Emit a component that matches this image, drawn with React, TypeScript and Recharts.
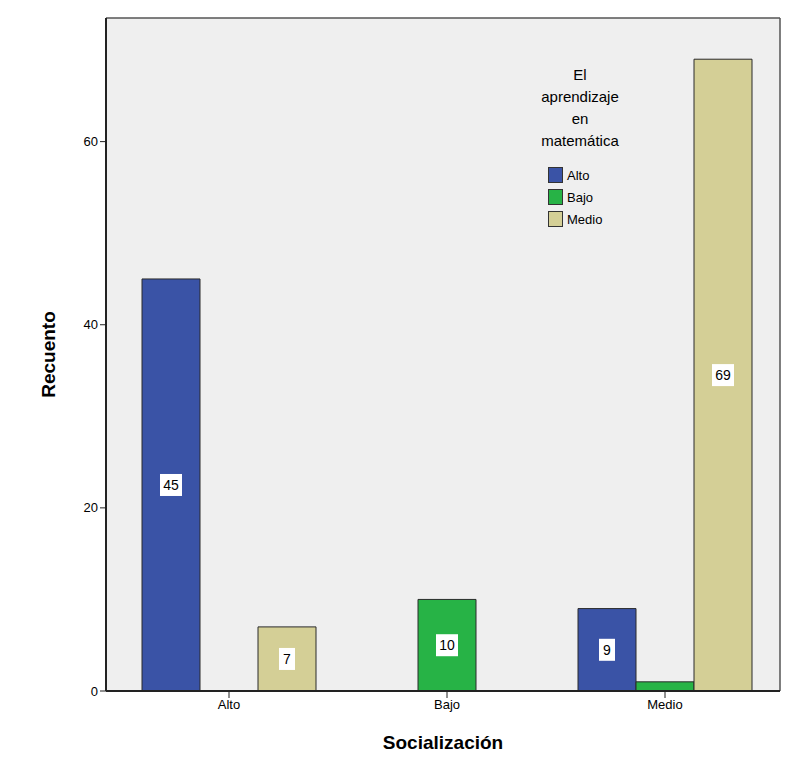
import React from 'react';
import { BarChart, Bar, XAxis, YAxis, CartesianGrid, LabelList, Label } from 'recharts';

const categories = ['Alto', 'Bajo', 'Medio'];
const altoValues = [45, 0, 9];
const bajoValues = [0, 10, 1];
const medioValues = [7, 0, 69];
const yTicks = [0, 20, 40, 60];
const legendTitle = ['El', 'aprendizaje', 'en', 'matemática'];
const seriesNames = ['Alto', 'Bajo', 'Medio'];
const colors = ['#3a53a6', '#27b346', '#d4cf96'];

const data = categories.map((c, i) => ({
  cat: c,
  Alto: altoValues[i],
  Bajo: bajoValues[i],
  Medio: medioValues[i],
}));

const FONT = '"Liberation Sans", Arial, sans-serif';

const ValueLabel = (props: any) => {
  const { x, y, width, height, value } = props;
  if (!value || value < 2) return null;
  const cx = x + width / 2;
  const cy = y + height / 2;
  const w = String(value).length > 1 ? 22 : 16;
  return (
    <g>
      <rect x={cx - w / 2} y={cy - 11} width={w} height={22} fill="#ffffff" />
      <text x={cx} y={cy + 5} textAnchor="middle" fontSize={14} fontFamily={FONT} fill="#000">
        {value}
      </text>
    </g>
  );
};

const LegendBox = () => (
  <div style={{ position: 'absolute', left: 510, top: 64, fontFamily: FONT, color: '#000', width: 140 }}>
    <div style={{ textAlign: 'center', fontSize: 15, lineHeight: '22px' }}>
      {legendTitle.map((t) => (
        <div key={t}>{t}</div>
      ))}
    </div>
    <div style={{ marginTop: 12, marginLeft: 38 }}>
      {seriesNames.map((n, i) => (
        <div key={n} style={{ display: 'flex', alignItems: 'center', height: 22, fontSize: 13 }}>
          <span
            style={{
              display: 'inline-block',
              width: 13,
              height: 14,
              background: colors[i],
              border: '1px solid #333',
              marginRight: 4,
            }}
          />
          {n}
        </div>
      ))}
    </div>
  </div>
);

export default function App() {
  return (
    <div style={{ position: 'absolute', left: 0, top: 0, width: 787, height: 783, background: '#fff' }}>
      <BarChart
        width={787}
        height={783}
        data={data}
        margin={{ top: 18, right: 7, bottom: 32, left: 0 }}
        barGap={0}
        barCategoryGap={22}
      >
        <CartesianGrid
          fill="#efefef"
          stroke="#555"
          strokeWidth={1.5}
          horizontalCoordinatesGenerator={({ offset }: any) => [offset.top]}
          verticalCoordinatesGenerator={({ offset }: any) => [offset.left + offset.width]}
        />
        <XAxis
          dataKey="cat"
          height={60}
          padding={{ left: 14, right: 6 }}
          axisLine={{ stroke: '#222', strokeWidth: 2 }}
          tickLine={{ stroke: '#222' }}
          tickSize={7}
          tick={{ fill: '#000', fontSize: 13, fontFamily: FONT }}
        >
          <Label
            value="Socialización"
            position="insideBottom"
            offset={2}
            style={{ fontSize: 19, fontWeight: 'bold', fontFamily: FONT, fill: '#000' }}
          />
        </XAxis>
        <YAxis
          width={106}
          domain={[0, 73.5]}
          ticks={yTicks}
          axisLine={{ stroke: '#222', strokeWidth: 2 }}
          tickLine={{ stroke: '#222' }}
          tickSize={6}
          tick={{ fill: '#000', fontSize: 13, fontFamily: FONT }}
        >
          <Label
            value="Recuento"
            angle={-90}
            position="insideLeft"
            offset={48}
            style={{ fontSize: 19, fontWeight: 'bold', fontFamily: FONT, fill: '#000', textAnchor: 'middle' }}
          />
        </YAxis>
        {seriesNames.map((n, i) => (
          <Bar key={n} dataKey={n} fill={colors[i]} stroke="#2a2a2a" strokeWidth={1} isAnimationActive={false}>
            <LabelList dataKey={n} content={<ValueLabel />} />
          </Bar>
        ))}
      </BarChart>
      <LegendBox />
    </div>
  );
}
